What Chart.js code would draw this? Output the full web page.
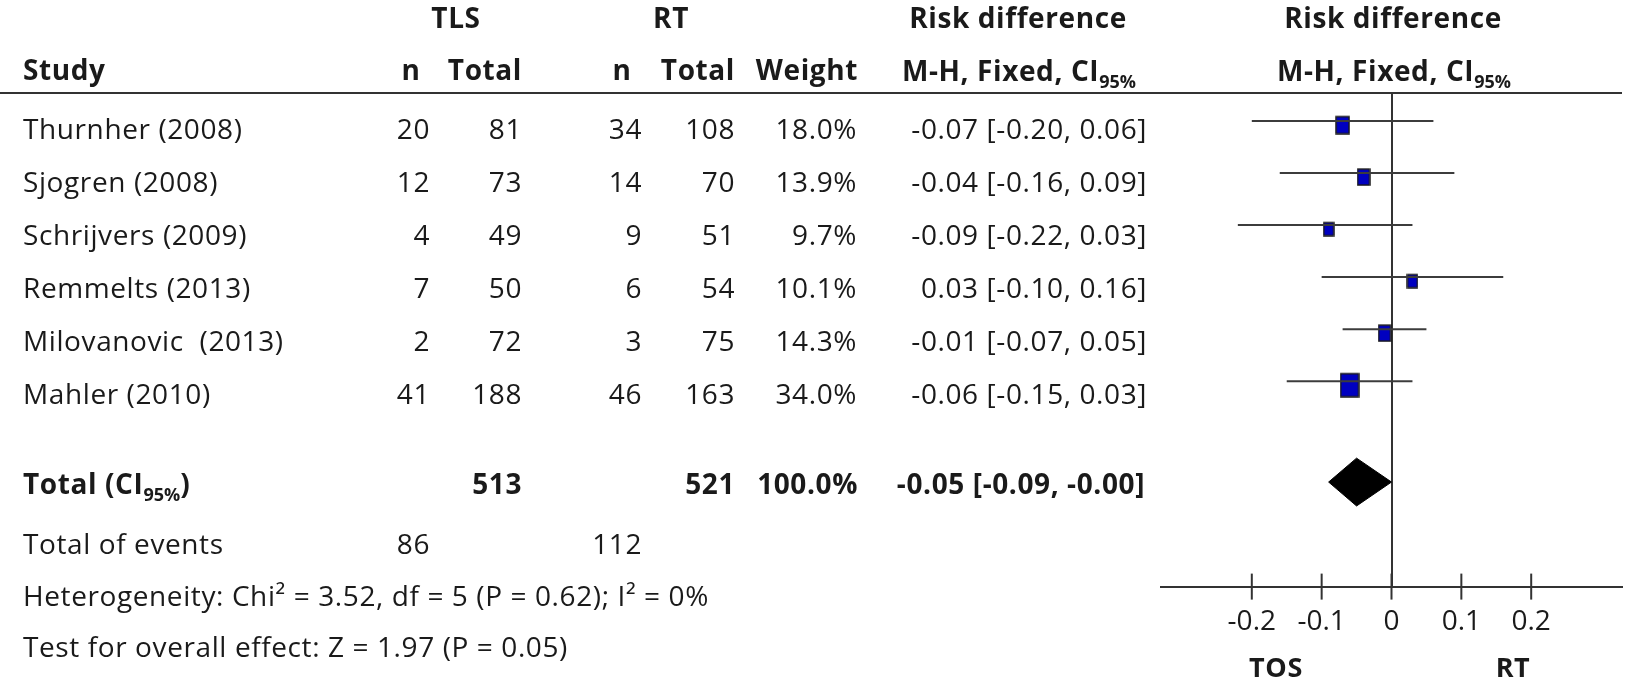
<!DOCTYPE html>
<html>
<head>
<meta charset="utf-8">
<script src="https://cdn.jsdelivr.net/npm/chart.js@4.4.1/dist/chart.umd.min.js"></script>
<style>
  html, body { margin: 0; padding: 0; background: #fff; }
  #wrap { position: relative; width: 1650px; height: 682px; overflow: hidden; font-family: 'Open Sans', sans-serif; color: #1a1a1a; }
  #chart { position: absolute; left: 0; top: 0; }
  .t { position: absolute; font-size: 28px; line-height: 28px; letter-spacing: 0.6px; white-space: pre; }
  .b { font-weight: bold; }
  .t sub { font-size: 18px; line-height: 0; vertical-align: -7px; letter-spacing: 0; }
  #rule { position: absolute; left: 0; top: 92px; width: 1622px; height: 2px; background: #333; }
</style>
</head>
<body>
<div id="wrap">
  <canvas id="chart" width="1650" height="682"></canvas>
  <div id="rule"></div>
</div>
<script>
const studies = ['Thurnher (2008)', 'Sjogren (2008)', 'Schrijvers (2009)', 'Remmelts (2013)', 'Milovanovic  (2013)', 'Mahler (2010)'];
const tlsEvents = [20, 12, 4, 7, 2, 41];
const tlsTotal = [81, 73, 49, 50, 72, 188];
const rtEvents = [34, 14, 9, 6, 3, 46];
const rtTotal = [108, 70, 51, 54, 75, 163];
const weights = [18.0, 13.9, 9.7, 10.1, 14.3, 34.0];
const rdEst = [-0.07, -0.04, -0.09, 0.03, -0.01, -0.06];
const rdLow = [-0.20, -0.16, -0.22, -0.10, -0.07, -0.15];
const rdHigh = [0.06, 0.09, 0.03, 0.16, 0.05, 0.03];
const pooledRd = [-0.05, -0.09, -0.00]; // estimate, low, high
const tickVals = [-0.2, -0.1, 0, 0.1, 0.2];
const heterogeneity = 'Heterogeneity: Chi² = 3.52, df = 5 (P = 0.62); I² = 0%';
const overallTest = 'Test for overall effect: Z = 1.97 (P = 0.05)';

const sum = (a) => a.reduce((s, v) => s + v, 0);
const fmt = (v) => ((v < 0 || Object.is(v, -0)) ? '-' : '') + Math.abs(v).toFixed(2);
const rdText = (e, l, h) => `${fmt(e)} [${fmt(l)}, ${fmt(h)}]`;
const ci95 = 'CI<sub>95%</sub>';

const wrap = document.getElementById('wrap');
function put(html, x, y, align = 'left', bold = false, size = 28) {
  const el = document.createElement('div');
  el.className = 't' + (bold ? ' b' : '');
  el.innerHTML = html;
  el.style.fontSize = size + 'px';
  el.style.lineHeight = size + 'px';
  el.style.top = (y - size * 0.532) + 'px';
  if (align === 'right') el.style.right = (1650 - x) + 'px';
  else if (align === 'center') { el.style.left = x + 'px'; el.style.transform = 'translateX(-50%)'; }
  else el.style.left = x + 'px';
  wrap.appendChild(el);
}

// table header
put('TLS', 456, 18, 'center', true);
put('RT', 671, 18, 'center', true);
put('Risk difference', 1018, 18, 'center', true);
put('Risk difference', 1393, 18, 'center', true);
put('Study', 23, 70, 'left', true);
put('n', 411, 70, 'center', true);
put('Total', 522, 70, 'right', true);
put('n', 622, 70, 'center', true);
put('Total', 735, 70, 'right', true);
put('Weight', 858, 70, 'right', true);
put('M-H, Fixed, ' + ci95, 1019, 71, 'center', true);
put('M-H, Fixed, ' + ci95, 1394, 71, 'center', true);

// study rows
studies.forEach((s, i) => {
  const y = 128.5 + 53 * i;
  put(s, 23, y);
  put(String(tlsEvents[i]), 430, y, 'right');
  put(String(tlsTotal[i]), 522, y, 'right');
  put(String(rtEvents[i]), 642, y, 'right');
  put(String(rtTotal[i]), 735, y, 'right');
  put(weights[i].toFixed(1) + '%', 857, y, 'right');
  put(rdText(rdEst[i], rdLow[i], rdHigh[i]), 1147, y, 'right');
});

// totals and footer
put('Total (' + ci95 + ')', 23, 484, 'left', true);
put(String(sum(tlsTotal)), 522, 484, 'right', true);
put(String(sum(rtTotal)), 735, 484, 'right', true);
put(sum(weights).toFixed(1) + '%', 858, 484, 'right', true);
put(rdText(pooledRd[0], pooledRd[1], pooledRd[2]), 1145, 484, 'right', true);
put('Total of events', 23, 544);
put(String(sum(tlsEvents)), 430, 544, 'right');
put(String(sum(rtEvents)), 642, 544, 'right');
put(heterogeneity, 23, 596);
put(overallTest, 23, 647);
put('TOS', 1276, 667, 'center', true, 27);
put('RT', 1513, 667, 'center', true, 27);

// plot
const totalRow = 6.94, axisRow = 8.95, diamondHalf = 0.46;
const boxScale = 3.1, boxAspect = 1.3;

function boxImage(w) {
  const bw = Math.round(boxScale * Math.sqrt(w));
  const bh = Math.round(bw * boxAspect);
  const c = document.createElement('canvas');
  c.width = bw + 2; c.height = bh + 10;
  const g = c.getContext('2d');
  g.fillStyle = '#0000c0'; g.strokeStyle = '#1a1a1a'; g.lineWidth = 1.5;
  g.fillRect(1, 9, bw, bh); g.strokeRect(1, 9, bw, bh);
  return c;
}

const ciSets = studies.map((s, i) => ({
  type: 'scatter', label: s, showLine: true,
  data: [{ x: rdLow[i], y: i }, { x: rdHigh[i], y: i }],
  borderColor: '#3c3c3c', borderWidth: 2, pointRadius: 0,
}));

const boxSet = {
  type: 'scatter', label: 'estimate',
  data: rdEst.map((v, i) => ({ x: v, y: i })),
  pointStyle: weights.map(boxImage), pointRadius: 10,
};

const diamondSet = {
  type: 'scatter', label: 'pooled', showLine: true, fill: 'shape',
  data: [
    { x: pooledRd[1], y: totalRow }, { x: pooledRd[0], y: totalRow - diamondHalf },
    { x: pooledRd[2], y: totalRow }, { x: pooledRd[0], y: totalRow + diamondHalf },
    { x: pooledRd[1], y: totalRow },
  ],
  borderColor: '#000', backgroundColor: '#000', borderWidth: 1, pointRadius: 0,
};

const tickSet = {
  type: 'scatter', label: 'ticks',
  data: tickVals.map((v) => ({ x: v, y: axisRow })),
  pointStyle: 'line', rotation: 90, pointRadius: 13, borderColor: '#333', borderWidth: 2, clip: false,
};

new Chart(document.getElementById('chart'), {
  type: 'scatter',
  data: { datasets: [...ciSets, boxSet, diamondSet, tickSet] },
  options: {
    responsive: false,
    animation: false,
    events: [],
    layout: { padding: { left: 1161, right: 28, top: 93, bottom: 0 } },
    plugins: { legend: { display: false }, tooltip: { enabled: false } },
    scales: {
      x: {
        type: 'linear', min: -0.33, max: 0.33,
        afterBuildTicks: (s) => { s.ticks = tickVals.map((v) => ({ value: v })); },
        afterFit: (s) => { s.height = 682 - 586.6; },
        grid: { drawTicks: false, lineWidth: 2, color: (ctx) => (ctx.tick && ctx.tick.value === 0 ? '#333' : 'rgba(0,0,0,0)') },
        border: { display: true, color: '#333', width: 2 },
        ticks: { autoSkip: false, maxRotation: 0, padding: 19, color: '#1a1a1a', font: { family: 'Open Sans', size: 28 }, callback: (v) => String(v) },
      },
      y: { type: 'linear', min: -0.54, max: axisRow, reverse: true, display: false },
    },
  },
});
</script>
</body>
</html>
